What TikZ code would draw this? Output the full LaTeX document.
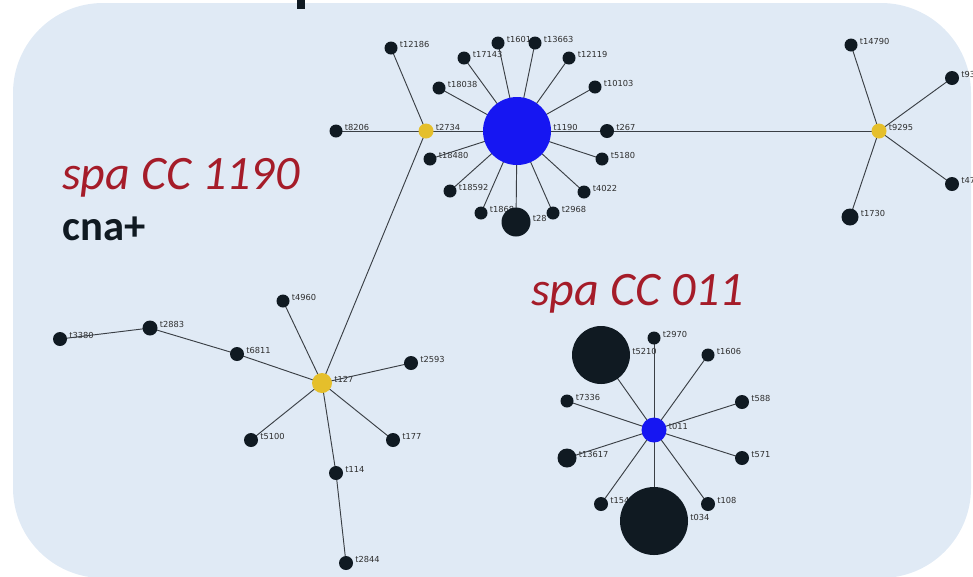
\documentclass[tikz,border=0pt]{standalone}
\usepackage{fontspec}
\setmainfont{DejaVu Sans}
\newfontfamily\calfont{Carlito}
\definecolor{panelbg}{RGB}{224,234,245}
\definecolor{hubblue}{RGB}{22,22,242}
\definecolor{dotblack}{RGB}{16,26,34}
\definecolor{hubyellow}{RGB}{229,191,43}
\definecolor{edgegray}{RGB}{58,63,69}
\definecolor{lblgray}{RGB}{45,45,45}
\definecolor{ccred}{RGB}{165,28,41}
\pgfdeclarelayer{panel}
\pgfdeclarelayer{labels}
\pgfdeclarelayer{edges}
\pgfsetlayers{panel,labels,edges,main}
\tikzset{
  dot/.style={circle, inner sep=0pt, draw=none, fill=#1},
  lbl/.style={inner sep=0pt, anchor=west, text=lblgray,
    font=\fontsize{6.2}{7}\selectfont},
  link/.style={draw=edgegray, line width=0.7pt},
  cctitle/.style={inner sep=0pt, anchor=base west, text=ccred,
    font=\calfont\itshape\fontsize{36}{40}\selectfont},
}
% spa type: name, x, y, radius (px), fill, label
\newcommand\spatype[6]{%
  \node[dot=#5, minimum size=#4*1.5pt] (#1) at (#2,#3) {};
  \begin{pgfonlayer}{labels}
    \node[lbl, xshift=#4*0.75pt+1.5pt, yshift=2.4pt] (#1-l) at (#1) {#6};
  \end{pgfonlayer}}
\begin{document}
\begin{tikzpicture}[x=0.75pt,y=-0.75pt]
\useasboundingbox (0,0) rectangle (973,576);
\begin{pgfonlayer}{panel}
  \fill[panelbg, rounded corners=67.5pt] (13,3) rectangle (971,578);
\end{pgfonlayer}
\fill[dotblack] (297,0) rectangle (305,9);

% CC 1190 group
\spatype{t1190}{517}{131}{34}{hubblue}{t1190}
\spatype{t2734}{426}{131}{7.5}{hubyellow}{t2734}
\spatype{t8206}{336}{131}{6.5}{dotblack}{t8206}
\spatype{t12186}{391}{48}{6.5}{dotblack}{t12186}
\spatype{t18038}{439}{88}{6.5}{dotblack}{t18038}
\spatype{t17143}{464}{58}{6.5}{dotblack}{t17143}
\spatype{t1601}{498}{43}{6.5}{dotblack}{t1601}
\spatype{t13663}{535}{43}{6.5}{dotblack}{t13663}
\spatype{t12119}{569}{58}{6.5}{dotblack}{t12119}
\spatype{t10103}{595}{87}{6.5}{dotblack}{t10103}
\spatype{t267}{607}{131}{7}{dotblack}{t267}
\spatype{t5180}{602}{159}{6.5}{dotblack}{t5180}
\spatype{t4022}{584}{192}{6.5}{dotblack}{t4022}
\spatype{t2968}{553}{213}{6.5}{dotblack}{t2968}
\spatype{t28}{516}{222}{14.5}{dotblack}{t28}
\spatype{t1868}{481}{213}{6.5}{dotblack}{t1868}
\spatype{t18592}{450}{191}{6.5}{dotblack}{t18592}
\spatype{t18480}{430}{159}{6.5}{dotblack}{t18480}
% t9295 branch
\spatype{t9295}{879}{131}{7.5}{hubyellow}{t9295}
\spatype{t14790}{851}{45}{6.5}{dotblack}{t14790}
\spatype{t93}{952}{78}{7}{dotblack}{t93}
\spatype{t47}{952}{184}{7}{dotblack}{t47}
\spatype{t1730}{850}{217}{8.5}{dotblack}{t1730}
% t127 branch
\spatype{t127}{322}{383}{10}{hubyellow}{t127}
\spatype{t4960}{283}{301}{6.5}{dotblack}{t4960}
\spatype{t6811}{237}{354}{7}{dotblack}{t6811}
\spatype{t2883}{150}{328}{7.5}{dotblack}{t2883}
\spatype{t3380}{60}{339}{7}{dotblack}{t3380}
\spatype{t2593}{411}{363}{7}{dotblack}{t2593}
\spatype{t177}{393}{440}{7}{dotblack}{t177}
\spatype{t5100}{251}{440}{7}{dotblack}{t5100}
\spatype{t114}{336}{473}{7}{dotblack}{t114}
\spatype{t2844}{346}{563}{7}{dotblack}{t2844}
% CC 011 group
\spatype{t011}{654}{430}{12.5}{hubblue}{t011}
\spatype{t5210}{601}{355}{29}{dotblack}{t5210}
\spatype{t2970}{654}{338}{6.5}{dotblack}{t2970}
\spatype{t1606}{708}{355}{6.5}{dotblack}{t1606}
\spatype{t7336}{567}{401}{6.5}{dotblack}{t7336}
\spatype{t588}{742}{402}{7}{dotblack}{t588}
\spatype{t13617}{567}{458}{9.5}{dotblack}{t13617}
\spatype{t571}{742}{458}{7}{dotblack}{t571}
\spatype{t154}{601}{504}{7}{dotblack}{t154}
\spatype{t034}{654}{521}{34}{dotblack}{t034}
\spatype{t108}{708}{504}{7}{dotblack}{t108}

\begin{pgfonlayer}{edges}
  \foreach \n in {t2734,t18038,t17143,t1601,t13663,t12119,t10103,t267,
                  t5180,t4022,t2968,t28,t1868,t18592,t18480}
    \draw[link] (t1190.center) -- (\n.center);
  \draw[link] (t2734.center) -- (t8206.center);
  \draw[link] (t2734.center) -- (t12186.center);
  \draw[link] (t2734.center) -- (t127.center);
  \draw[link] (t267.center) -- (t9295.center);
  \foreach \n in {t14790,t93,t47,t1730}
    \draw[link] (t9295.center) -- (\n.center);
  \foreach \n in {t4960,t6811,t2593,t177,t5100,t114}
    \draw[link] (t127.center) -- (\n.center);
  \draw[link] (t6811.center) -- (t2883.center);
  \draw[link] (t2883.center) -- (t3380.center);
  \draw[link] (t114.center) -- (t2844.center);
  \foreach \n in {t5210,t2970,t1606,t7336,t588,t13617,t571,t154,t034,t108}
    \draw[link] (t011.center) -- (\n.center);
\end{pgfonlayer}

% group captions
\node[cctitle] (cc1190) at (62,189) {spa CC 1190};
\node[inner sep=0pt, anchor=base west, text=dotblack,
      font=\calfont\bfseries\fontsize{32}{36}\selectfont] (cna) at (62,240) {cna+};
\node[cctitle] (cc011) at (531,305) {spa CC 011};
\end{tikzpicture}
\end{document}
